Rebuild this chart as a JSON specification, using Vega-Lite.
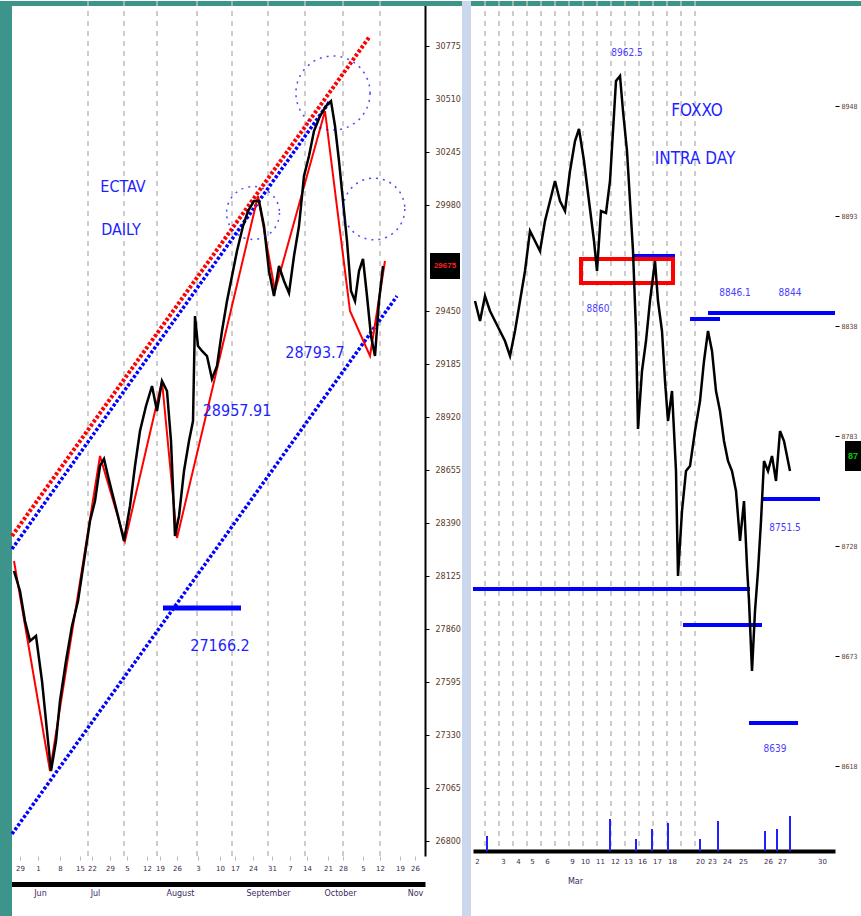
{
  "$schema": "https://vega.github.io/schema/vega-lite/v6.json",
  "background": "white",
  "padding": 0,
  "bounds": "flush",
  "spacing": 48,
  "config": {
    "view": {"stroke": null},
    "axis": {"labelFont": "DejaVu Sans", "title": null, "grid": false}
  },
  "datasets": {
    "lp": [
      {"d":0.5,"p":28150},{"d":2,"p":28050},{"d":3.25,"p":27900},{"d":4.5,"p":27800},{"d":6,"p":27825},
      {"d":7.5,"p":27600},{"d":9,"p":27300},{"d":9.75,"p":27150},{"d":11,"p":27300},{"d":12,"p":27500},
      {"d":13.5,"p":27700},{"d":15,"p":27875},{"d":16.5,"p":28000},{"d":18,"p":28200},{"d":19.5,"p":28400},
      {"d":20.75,"p":28500},{"d":22,"p":28675},{"d":23,"p":28710},{"d":24,"p":28625},{"d":25.25,"p":28525},
      {"d":26.5,"p":28425},{"d":28,"p":28300},{"d":29.5,"p":28475},{"d":30.75,"p":28675},{"d":32,"p":28850},
      {"d":33.5,"p":28975},{"d":35,"p":29075},{"d":36.25,"p":28950},{"d":37.5,"p":29100},{"d":38.75,"p":29050},
      {"d":39.75,"p":28800},{"d":40.75,"p":28325},{"d":41.75,"p":28425},{"d":43,"p":28650},{"d":44.25,"p":28800},
      {"d":45.25,"p":28900},{"d":45.75,"p":29425},{"d":46.5,"p":29275},{"d":47.5,"p":29250},{"d":48.75,"p":29225},
      {"d":50,"p":29110},{"d":51.25,"p":29175},{"d":52.5,"p":29350},{"d":53.75,"p":29500},{"d":55,"p":29625},
      {"d":56.25,"p":29750},{"d":57.75,"p":29875},{"d":59,"p":29950},{"d":60.5,"p":30000},{"d":61.75,"p":30000},
      {"d":63,"p":29875},{"d":64.25,"p":29650},{"d":65.5,"p":29525},{"d":66.75,"p":29675},{"d":68,"p":29600},
      {"d":69.25,"p":29540},{"d":70.5,"p":29725},{"d":71.75,"p":29875},{"d":73,"p":30125},{"d":74.25,"p":30225},
      {"d":75.5,"p":30350},{"d":77,"p":30425},{"d":78.5,"p":30475},{"d":79.75,"p":30500},{"d":80.75,"p":30375},
      {"d":81.75,"p":30200},{"d":82.75,"p":30000},{"d":83.75,"p":29800},{"d":84.75,"p":29550},{"d":85.75,"p":29500},
      {"d":86.75,"p":29650},{"d":87.75,"p":29710},{"d":88.75,"p":29525},{"d":89.75,"p":29325},{"d":90.75,"p":29225},
      {"d":91.75,"p":29500},{"d":92.75,"p":29675}
    ],
    "lz": [
      {"d":0.5,"p":28200},{"d":9.5,"p":27150},{"d":22,"p":28725},{"d":28.25,"p":28300},{"d":37.5,"p":29100},
      {"d":41.25,"p":28315},{"d":61.5,"p":30025},{"d":65.75,"p":29550},{"d":78.25,"p":30450},{"d":84.5,"p":29450},
      {"d":89.5,"p":29225},{"d":93.25,"p":29700}
    ],
    "lch": [
      {"s":"red","d":0,"p":28325},{"s":"red","d":89.5,"p":30825},
      {"s":"blueU","d":0,"p":28260},{"s":"blueU","d":79.5,"p":30500},
      {"s":"blueL","d":0,"p":26835},{"s":"blueL","d":96.25,"p":29525}
    ],
    "lgrid": [{"d":19},{"d":28},{"d":36.25},{"d":46.25},{"d":55},{"d":64},{"d":73.25},{"d":82.75},{"d":92}],
    "ltext": [
      {"label":"ECTAV","d":27.75,"p":30070},
      {"label":"DAILY","d":27.25,"p":29855},
      {"label":"28957.91","d":56.25,"p":28950},
      {"label":"28793.7","d":75.75,"p":29240},
      {"label":"27166.2","d":52,"p":27775}
    ],
    "rp": [
      {"t":1,"p":8850},{"t":3.5,"p":8840},{"t":6,"p":8852.5},{"t":8.5,"p":8845},{"t":11,"p":8840},
      {"t":13.5,"p":8835},{"t":16,"p":8830},{"t":18.5,"p":8822.5},{"t":21,"p":8835},{"t":23.5,"p":8850},
      {"t":26,"p":8865},{"t":28.5,"p":8885},{"t":31,"p":8880},{"t":33.5,"p":8875},{"t":36,"p":8890},
      {"t":38.5,"p":8900},{"t":41,"p":8910},{"t":43.5,"p":8900},{"t":46,"p":8895},{"t":48.5,"p":8915},
      {"t":51,"p":8930},{"t":53,"p":8936},{"t":55.5,"p":8920},{"t":58,"p":8900},{"t":60.5,"p":8880},
      {"t":62,"p":8865},{"t":64,"p":8895},{"t":66.5,"p":8894},{"t":68.5,"p":8910},{"t":70,"p":8935},
      {"t":71.5,"p":8960},{"t":73.5,"p":8962.5},{"t":75,"p":8945},{"t":77,"p":8925},{"t":78.5,"p":8900},
      {"t":80,"p":8875},{"t":81.5,"p":8835},{"t":82.5,"p":8786},{"t":84.5,"p":8815},{"t":86.5,"p":8830},
      {"t":88.5,"p":8850},{"t":91,"p":8870},{"t":92.5,"p":8850},{"t":94.5,"p":8835},{"t":96,"p":8810},
      {"t":97.5,"p":8790},{"t":99.5,"p":8805},{"t":101.5,"p":8765},{"t":102.5,"p":8712.5},{"t":104.5,"p":8745},
      {"t":106.5,"p":8765},{"t":108.5,"p":8767.5},{"t":111,"p":8785},{"t":113.5,"p":8800},{"t":115.5,"p":8820},
      {"t":117.5,"p":8835},{"t":119.5,"p":8825},{"t":121.5,"p":8805},{"t":123.5,"p":8795},{"t":125.5,"p":8780},
      {"t":127.5,"p":8770},{"t":129.5,"p":8765},{"t":131.5,"p":8755},{"t":133.5,"p":8730},{"t":135.5,"p":8750},
      {"t":137,"p":8717.5},{"t":138,"p":8700},{"t":139.5,"p":8665},{"t":141,"p":8695},{"t":142.5,"p":8715},
      {"t":144,"p":8740},{"t":145.5,"p":8770},{"t":147.5,"p":8765},{"t":149.5,"p":8772.5},{"t":151.5,"p":8760},
      {"t":153.5,"p":8785},{"t":155.5,"p":8780},{"t":158.5,"p":8765}
    ],
    "rlines": [
      {"a":0,"b":138.5,"p":8706},{"a":80,"b":101,"p":8872.5},{"a":108.5,"b":123.5,"p":8841},
      {"a":117.5,"b":181,"p":8844},{"a":144.5,"b":173.5,"p":8751},{"a":105,"b":144.5,"p":8688},
      {"a":138,"b":162.5,"p":8639}
    ],
    "rgrid": [{"t":6},{"t":13},{"t":20},{"t":27},{"t":34},{"t":41},{"t":48},{"t":55},{"t":62},{"t":69},{"t":76},{"t":83},{"t":90},{"t":97},{"t":104},{"t":111}],
    "rvol": [
      {"t":7,"v":8582.5},{"t":68.5,"v":8591},{"t":81.5,"v":8581},{"t":89.5,"v":8586},{"t":97.5,"v":8589},
      {"t":113.5,"v":8581},{"t":122.5,"v":8590},{"t":146,"v":8585},{"t":152,"v":8586},{"t":158.5,"v":8592.5}
    ],
    "rsmall": [
      {"label":"8962.5","t":77,"p":8974},
      {"label":"8860","t":62.5,"p":8846},
      {"label":"8846.1","t":131,"p":8854},
      {"label":"8844","t":158.5,"p":8854},
      {"label":"8751.5","t":156,"p":8736.5},
      {"label":"8639","t":151,"p":8626}
    ],
    "rbig": [
      {"label":"FOXXO","t":112,"p":8945},
      {"label":"INTRA DAY","t":111,"p":8921}
    ]
  },
  "hconcat": [
    {
      "width": 425,
      "height": 855,
      "resolve": {"axis": {"x": "independent", "y": "independent"}},
      "layer": [
        {
          "data": {"values": [{"d":-3,"d2":0,"p":31000,"p2":26420},{"d":-3,"d2":212.25,"p":31000,"p2":30975}]},
          "mark": {"type": "rect", "clip": false, "color": "#3c948a"},
          "encoding": {
            "x": {"field": "d", "type": "quantitative", "scale": {"domain": [-3, 103.25], "nice": false, "zero": false}, "axis": null},
            "x2": {"field": "d2"},
            "y": {"field": "p", "type": "quantitative", "scale": {"domain": [26725, 31000], "nice": false, "zero": false}, "axis": null},
            "y2": {"field": "p2"}
          }
        },
        {
          "data": {"values": [{"d":112.5,"d2":114.75,"p":31000,"p2":26420}]},
          "mark": {"type": "rect", "clip": false, "color": "#c9d8ec"},
          "encoding": {
            "x": {"field": "d", "type": "quantitative", "scale": {"domain": [-3, 103.25], "nice": false, "zero": false}, "axis": null},
            "x2": {"field": "d2"},
            "y": {"field": "p", "type": "quantitative", "scale": {"domain": [26725, 31000], "nice": false, "zero": false}, "axis": null},
            "y2": {"field": "p2"}
          }
        },
        {
          "data": {"name": "lgrid"},
          "mark": {"type": "rule", "color": "#bdbdbd", "strokeDash": [5, 5], "strokeWidth": 1.5},
          "encoding": {
            "x": {"field": "d", "type": "quantitative", "scale": {"domain": [-3, 103.25], "nice": false, "zero": false}, "axis": null}
          }
        },
        {
          "data": {"name": "lch"},
          "transform": [{"filter": "datum.s === 'red'"}],
          "mark": {"type": "line", "color": "#ff0000", "strokeWidth": 4, "strokeDash": [3, 2]},
          "encoding": {
            "x": {"field": "d", "type": "quantitative", "scale": {"domain": [-3, 103.25], "nice": false, "zero": false}, "axis": null},
            "y": {"field": "p", "type": "quantitative", "scale": {"domain": [26725, 31000], "nice": false, "zero": false}, "axis": null}
          }
        },
        {
          "data": {"name": "lch"},
          "transform": [{"filter": "datum.s !== 'red'"}],
          "mark": {"type": "line", "color": "#0000ff", "strokeWidth": 3.5, "strokeDash": [3, 2]},
          "encoding": {
            "x": {"field": "d", "type": "quantitative", "scale": {"domain": [-3, 103.25], "nice": false, "zero": false}, "axis": null},
            "y": {"field": "p", "type": "quantitative", "scale": {"domain": [26725, 31000], "nice": false, "zero": false}, "axis": null},
            "detail": {"field": "s"}
          }
        },
        {
          "data": {"values": [{"d":37.75,"d2":57.25,"p":27965}]},
          "mark": {"type": "rule", "color": "#0000ff", "strokeWidth": 5},
          "encoding": {
            "x": {"field": "d", "type": "quantitative", "scale": {"domain": [-3, 103.25], "nice": false, "zero": false}, "axis": null},
            "x2": {"field": "d2"},
            "y": {"field": "p", "type": "quantitative", "scale": {"domain": [26725, 31000], "nice": false, "zero": false}, "axis": null}
          }
        },
        {
          "data": {"name": "lz"},
          "mark": {"type": "line", "color": "#ff0000", "strokeWidth": 2},
          "encoding": {
            "x": {"field": "d", "type": "quantitative", "scale": {"domain": [-3, 103.25], "nice": false, "zero": false},
              "axis": {"orient": "bottom", "offset": 28, "domainColor": "#000000", "domainWidth": 5, "ticks": false,
                "values": [7, 20.75, 42, 64, 82, 100.75],
                "labelExpr": "['Jun','Jul','August','September','October','Nov'][indexof([7,20.75,42,64,82,100.75], datum.value)]",
                "labelFontSize": 8, "labelColor": "#3a2a60", "labelPadding": 5, "labelFlush": false, "labelOverlap": false}},
            "y": {"field": "p", "type": "quantitative", "scale": {"domain": [26725, 31000], "nice": false, "zero": false}, "axis": null}
          }
        },
        {
          "data": {"name": "lp"},
          "mark": {"type": "line", "color": "#000000", "strokeWidth": 2.5},
          "encoding": {
            "x": {"field": "d", "type": "quantitative", "scale": {"domain": [-3, 103.25], "nice": false, "zero": false},
              "axis": {"orient": "bottom", "domain": false, "ticks": true, "tickColor": "#bbbbbb", "tickSize": 4,
                "values": [2, 6.5, 12, 17, 20, 24.5, 28.75, 33.75, 37, 41.25, 46.5, 52, 55.75, 60.25, 65, 69.5, 73.75, 79, 82.75, 87.75, 92, 97, 100.75],
                "labelExpr": "['29','1','8','15','22','29','5','12','19','26','3','10','17','24','31','7','14','21','28','5','12','19','26'][indexof([2,6.5,12,17,20,24.5,28.75,33.75,37,41.25,46.5,52,55.75,60.25,65,69.5,73.75,79,82.75,87.75,92,97,100.75], datum.value)]",
                "labelFontSize": 7, "labelColor": "#3a2a50", "labelPadding": 4, "labelFlush": false, "labelOverlap": false}},
            "y": {"field": "p", "type": "quantitative", "scale": {"domain": [26725, 31000], "nice": false, "zero": false},
              "axis": {"orient": "right", "domainColor": "#000000", "domainWidth": 2, "tickColor": "#000000", "tickSize": 4,
                "values": [30775, 30510, 30245, 29980, 29450, 29185, 28920, 28655, 28390, 28125, 27860, 27595, 27330, 27065, 26800],
                "format": "d", "labelFontSize": 8, "labelColor": "#5a3a28", "labelPadding": 6, "labelFlush": false}}
          }
        },
        {
          "data": {"values": [{"d":60.25,"p":29940}]},
          "mark": {"type": "point", "filled": false, "color": "#0000ff", "strokeDash": [2, 5], "strokeWidth": 1.5, "size": 2800, "shape": "circle"},
          "encoding": {
            "x": {"field": "d", "type": "quantitative", "scale": {"domain": [-3, 103.25], "nice": false, "zero": false}, "axis": null},
            "y": {"field": "p", "type": "quantitative", "scale": {"domain": [26725, 31000], "nice": false, "zero": false}, "axis": null}
          }
        },
        {
          "data": {"values": [{"d":80.25,"p":30540}]},
          "mark": {"type": "point", "filled": false, "color": "#0000ff", "strokeDash": [2, 5], "strokeWidth": 1.5, "size": 5500, "shape": "circle"},
          "encoding": {
            "x": {"field": "d", "type": "quantitative", "scale": {"domain": [-3, 103.25], "nice": false, "zero": false}, "axis": null},
            "y": {"field": "p", "type": "quantitative", "scale": {"domain": [26725, 31000], "nice": false, "zero": false}, "axis": null}
          }
        },
        {
          "data": {"values": [{"d":90.5,"p":29960}]},
          "mark": {"type": "point", "filled": false, "color": "#0000ff", "strokeDash": [2, 5], "strokeWidth": 1.5, "size": 3800, "shape": "circle"},
          "encoding": {
            "x": {"field": "d", "type": "quantitative", "scale": {"domain": [-3, 103.25], "nice": false, "zero": false}, "axis": null},
            "y": {"field": "p", "type": "quantitative", "scale": {"domain": [26725, 31000], "nice": false, "zero": false}, "axis": null}
          }
        },
        {
          "data": {"name": "ltext"},
          "mark": {"type": "text", "font": "DejaVu Sans Condensed", "fontSize": 16, "color": "#1f1fff", "align": "center", "baseline": "middle"},
          "encoding": {
            "x": {"field": "d", "type": "quantitative", "scale": {"domain": [-3, 103.25], "nice": false, "zero": false}, "axis": null},
            "y": {"field": "p", "type": "quantitative", "scale": {"domain": [26725, 31000], "nice": false, "zero": false}, "axis": null},
            "text": {"field": "label"}
          }
        },
        {
          "data": {"values": [{"d":104.5,"d2":112,"p":29740,"p2":29610}]},
          "mark": {"type": "rect", "clip": false, "color": "#000000"},
          "encoding": {
            "x": {"field": "d", "type": "quantitative", "scale": {"domain": [-3, 103.25], "nice": false, "zero": false}, "axis": null},
            "x2": {"field": "d2"},
            "y": {"field": "p", "type": "quantitative", "scale": {"domain": [26725, 31000], "nice": false, "zero": false}, "axis": null},
            "y2": {"field": "p2"}
          }
        },
        {
          "data": {"values": [{"d":108.25,"p":29675,"label":"29675"}]},
          "mark": {"type": "text", "clip": false, "color": "#ff2020", "fontSize": 8, "fontWeight": "bold", "align": "center", "baseline": "middle"},
          "encoding": {
            "x": {"field": "d", "type": "quantitative", "scale": {"domain": [-3, 103.25], "nice": false, "zero": false}, "axis": null},
            "y": {"field": "p", "type": "quantitative", "scale": {"domain": [26725, 31000], "nice": false, "zero": false}, "axis": null},
            "text": {"field": "label"}
          }
        }
      ]
    },
    {
      "width": 362,
      "height": 850,
      "resolve": {"axis": {"x": "independent", "y": "independent"}},
      "layer": [
        {
          "data": {"name": "rgrid"},
          "mark": {"type": "rule", "color": "#bdbdbd", "strokeDash": [5, 5], "strokeWidth": 1.5},
          "encoding": {
            "x": {"field": "t", "type": "quantitative", "scale": {"domain": [0, 181], "nice": false, "zero": false}, "axis": null}
          }
        },
        {
          "data": {"name": "rlines"},
          "mark": {"type": "rule", "color": "#0000ff", "strokeWidth": 4},
          "encoding": {
            "x": {"field": "a", "type": "quantitative", "scale": {"domain": [0, 181], "nice": false, "zero": false}, "axis": null},
            "x2": {"field": "b"},
            "y": {"field": "p", "type": "quantitative", "scale": {"domain": [8575, 9000], "nice": false, "zero": false}, "axis": null}
          }
        },
        {
          "data": {"values": [{"a":54,"b":100,"p":8871,"p2":8859}]},
          "mark": {"type": "rect", "fill": null, "fillOpacity": 0, "stroke": "#ff0000", "strokeWidth": 4},
          "encoding": {
            "x": {"field": "a", "type": "quantitative", "scale": {"domain": [0, 181], "nice": false, "zero": false}, "axis": null},
            "x2": {"field": "b"},
            "y": {"field": "p", "type": "quantitative", "scale": {"domain": [8575, 9000], "nice": false, "zero": false}, "axis": null},
            "y2": {"field": "p2"}
          }
        },
        {
          "data": {"name": "rvol"},
          "mark": {"type": "rule", "color": "#2020ff", "strokeWidth": 2},
          "encoding": {
            "x": {"field": "t", "type": "quantitative", "scale": {"domain": [0, 181], "nice": false, "zero": false},
              "axis": {"orient": "bottom", "offset": 22, "domain": false, "ticks": false, "values": [51],
                "labelExpr": "'Mar'", "labelFontSize": 8, "labelColor": "#3a2a60", "labelPadding": 4}},
            "y": {"field": "v", "type": "quantitative", "scale": {"domain": [8575, 9000], "nice": false, "zero": false}, "axis": null},
            "y2": {"datum": 8575}
          }
        },
        {
          "data": {"name": "rp"},
          "mark": {"type": "line", "color": "#000000", "strokeWidth": 2.5},
          "encoding": {
            "x": {"field": "t", "type": "quantitative", "scale": {"domain": [0, 181], "nice": false, "zero": false},
              "axis": {"orient": "bottom", "domainColor": "#000000", "domainWidth": 4, "ticks": false,
                "values": [2, 15, 22.5, 29.5, 37, 49.5, 56, 63.5, 71, 77.5, 84.5, 92, 99.5, 113.5, 119.5, 127, 135, 147.5, 154.5, 174.5],
                "labelExpr": "['2','3','4','5','6','9','10','11','12','13','16','17','18','20','23','24','25','26','27','30'][indexof([2,15,22.5,29.5,37,49.5,56,63.5,71,77.5,84.5,92,99.5,113.5,119.5,127,135,147.5,154.5,174.5], datum.value)]",
                "labelFontSize": 7, "labelColor": "#3a2a50", "labelPadding": 6, "labelFlush": false, "labelOverlap": false}},
            "y": {"field": "p", "type": "quantitative", "scale": {"domain": [8575, 9000], "nice": false, "zero": false},
              "axis": {"orient": "right", "domain": false, "tickColor": "#000000", "tickSize": 4,
                "values": [8947.5, 8892.5, 8837.5, 8782.5, 8727.5, 8672.5, 8617.5],
                "format": "d", "labelFont": "DejaVu Sans Condensed", "labelFontSize": 7, "labelColor": "#5a3a28", "labelPadding": 2, "labelFlush": false}}
          }
        },
        {
          "data": {"name": "rsmall"},
          "mark": {"type": "text", "fontSize": 10, "color": "#4b3cff", "align": "center", "baseline": "middle", "font": "DejaVu Sans Condensed"},
          "encoding": {
            "x": {"field": "t", "type": "quantitative", "scale": {"domain": [0, 181], "nice": false, "zero": false}, "axis": null},
            "y": {"field": "p", "type": "quantitative", "scale": {"domain": [8575, 9000], "nice": false, "zero": false}, "axis": null},
            "text": {"field": "label"}
          }
        },
        {
          "data": {"name": "rbig"},
          "mark": {"type": "text", "font": "DejaVu Sans Condensed", "fontSize": 17, "color": "#1f1fff", "align": "center", "baseline": "middle"},
          "encoding": {
            "x": {"field": "t", "type": "quantitative", "scale": {"domain": [0, 181], "nice": false, "zero": false}, "axis": null},
            "y": {"field": "p", "type": "quantitative", "scale": {"domain": [8575, 9000], "nice": false, "zero": false}, "axis": null},
            "text": {"field": "label"}
          }
        },
        {
          "data": {"values": [{"a":186,"b":194,"p":8780,"p2":8765}]},
          "mark": {"type": "rect", "clip": false, "color": "#000000"},
          "encoding": {
            "x": {"field": "a", "type": "quantitative", "scale": {"domain": [0, 181], "nice": false, "zero": false}, "axis": null},
            "x2": {"field": "b"},
            "y": {"field": "p", "type": "quantitative", "scale": {"domain": [8575, 9000], "nice": false, "zero": false}, "axis": null},
            "y2": {"field": "p2"}
          }
        },
        {
          "data": {"values": [{"a":190,"p":8772.5,"label":"87"}]},
          "mark": {"type": "text", "clip": false, "color": "#00cc00", "fontSize": 9, "fontWeight": "bold", "align": "center", "baseline": "middle"},
          "encoding": {
            "x": {"field": "a", "type": "quantitative", "scale": {"domain": [0, 181], "nice": false, "zero": false}, "axis": null},
            "y": {"field": "p", "type": "quantitative", "scale": {"domain": [8575, 9000], "nice": false, "zero": false}, "axis": null},
            "text": {"field": "label"}
          }
        }
      ]
    }
  ]
}
